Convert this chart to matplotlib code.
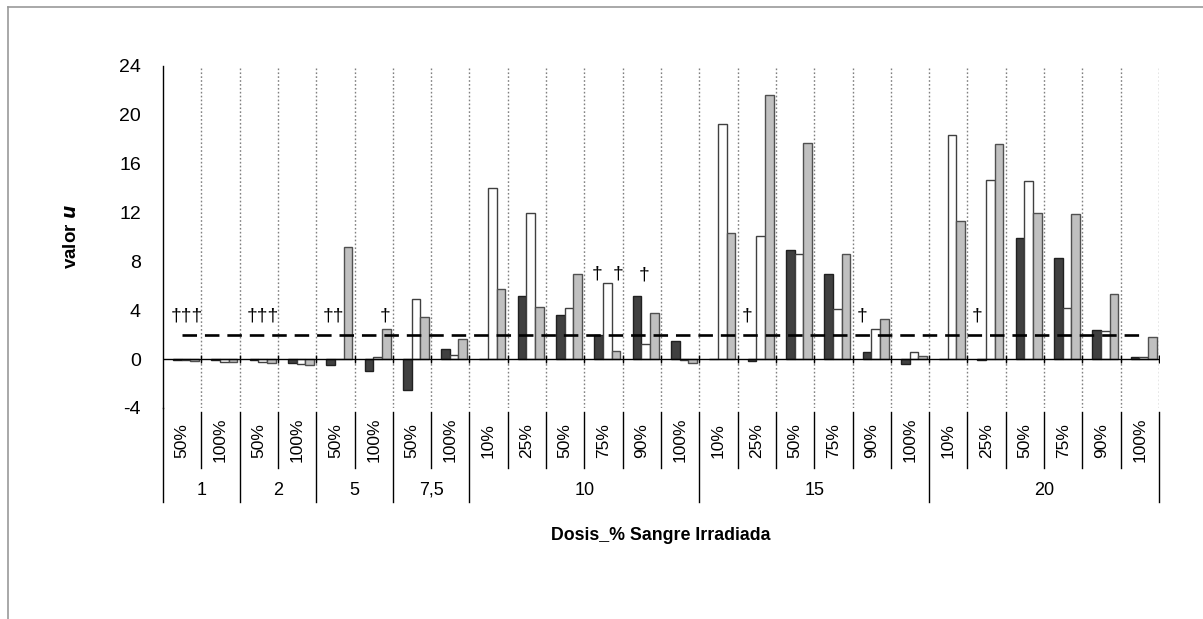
import numpy as np
import matplotlib
matplotlib.use("Agg")
import matplotlib.pyplot as plt
import matplotlib.transforms as mtransforms
from matplotlib.lines import Line2D

plt.rcParams['font.family'] = ['Liberation Sans', 'DejaVu Sans']
plt.rcParams['axes.unicode_minus'] = False

# dose groups and % of irradiated blood in each group
dosis = ['1', '2', '5', '7,5', '10', '15', '20']
porcentajes = [
    ['50%', '100%'],
    ['50%', '100%'],
    ['50%', '100%'],
    ['50%', '100%'],
    ['10%', '25%', '50%', '75%', '90%', '100%'],
    ['10%', '25%', '50%', '75%', '90%', '100%'],
    ['10%', '25%', '50%', '75%', '90%', '100%'],
]

# u values, three series (dark, white, light grey)
serie_oscura = [-0.05, -0.1, -0.1, -0.3, -0.5, -1.0, -2.5, 0.8,
                0.0, 5.2, 3.6, 2.0, 5.2, 1.5,
                0.0, -0.15, 8.9, 7.0, 0.6, -0.4,
                0.0, -0.1, 9.9, 8.3, 2.4, 0.2]
serie_blanca = [-0.1, -0.2, -0.2, -0.4, 0.0, 0.2, 4.95, 0.35,
                14.0, 12.0, 4.2, 6.25, 1.2, -0.05,
                19.25, 10.05, 8.6, 4.1, 2.5, 0.55,
                18.35, 14.7, 14.6, 4.15, 2.3, 0.17]
serie_gris = [-0.15, -0.2, -0.35, -0.45, 9.15, 2.5, 3.45, 1.65,
              5.75, 4.25, 7.0, 0.65, 3.8, -0.3,
              10.35, 21.65, 17.7, 8.6, 3.3, 0.25,
              11.35, 17.6, 12.0, 11.9, 5.3, 1.85]

umbral = 2.0

# dagger marks: category index, x offset inside category, text, u level
marca_cat = [0, 2, 4, 5, 11, 11, 12, 15, 18, 21]
marca_dx = [0.12, 0.11, -0.06, 0.29, -0.16, 0.37, 0.07, -0.25, -0.24, -0.25]
marca_txt = ['†††', '†††', '††', '†', '†', '†', '†', '†', '†', '†']
marca_y = [3.5, 3.5, 3.5, 3.5, 7.0, 7.0, 6.9, 3.5, 3.5, 3.5]

n = len(serie_oscura)
x = np.arange(n)
w = 0.226
shift = 0.1

fig = plt.figure(figsize=(12.03, 6.19), dpi=100)
ax = fig.add_axes([163 / 1203, 1 - 408 / 619, (1159 - 163) / 1203, (408 - 66) / 619])

ax.bar(x + shift - w, serie_oscura, w, color='#404040', edgecolor='#202020', linewidth=1, zorder=3)
ax.bar(x + shift, serie_blanca, w, color='white', edgecolor='#404040', linewidth=1, zorder=3)
ax.bar(x + shift + w, serie_gris, w, color='#c0c0c0', edgecolor='#505050', linewidth=1, zorder=3)

ax.plot(x, [umbral] * n, color='black', lw=1.9, dashes=(5.5, 3), zorder=4)

for c, dx, t, yy in zip(marca_cat, marca_dx, marca_txt, marca_y):
    ax.text(c + dx, yy, t, ha='center', va='center', fontsize=14, zorder=5)

ax.set_xlim(-0.5, n - 0.5)
ax.set_ylim(-4, 24)
ax.set_yticks(np.arange(-4, 25, 4))
ax.tick_params(axis='y', length=0, labelsize=14, pad=16)
ax.set_xticks([])

for s in ['top', 'right', 'bottom']:
    ax.spines[s].set_visible(False)
ax.spines['left'].set_linewidth(1)

# dotted grid at category boundaries
for b in np.arange(0.5, n, 1.0):
    ax.axvline(b, color='#808080', lw=1, ls=(0, (1.2, 1.6)), zorder=1)
ax.axhline(0, color='black', lw=1, zorder=4)
ax.plot(np.arange(0.5, n, 1.0), [0] * n, ls='none', marker='|', ms=6, mew=1, color='black', zorder=4)

# two-level category axis below the plot
trans = mtransforms.blended_transform_factory(ax.transData, ax.transAxes)
top_y = -0.012
inner_y = -0.175
outer_y = -0.275
pos = 0
bordes = [-0.5]
for g, pcts in zip(dosis, porcentajes):
    start = pos
    for p in pcts:
        ax.text(pos, -0.094, p, transform=trans, rotation=90, ha='center', va='center',
                fontsize=12.5, clip_on=False)
        pos += 1
    for b in range(start + 1, pos):
        ax.add_line(Line2D([b - 0.5, b - 0.5], [top_y, inner_y], transform=trans,
                           color='black', lw=1, clip_on=False))
    ax.text((start + pos - 1) / 2, -0.24, g, transform=trans, ha='center', va='center',
            fontsize=13, clip_on=False)
    bordes.append(pos - 0.5)
for b in bordes:
    y0 = 0 if b == -0.5 else top_y
    ax.add_line(Line2D([b, b], [y0, outer_y], transform=trans, color='black', lw=1, clip_on=False))

ax.set_ylabel('valor $\\mathbfit{u}$', fontsize=13.5, fontweight='bold', labelpad=28)
fig.text(661 / 1203, 1 - 536 / 619, 'Dosis_% Sangre Irradiada', ha='center', va='center',
         fontsize=12.8, fontweight='bold')

# chart border (left and top edges visible)
fig.add_artist(Line2D([8 / 1203, 8 / 1203], [0, 1 - 7 / 619], transform=fig.transFigure,
                      color='#999999', lw=1.2))
fig.add_artist(Line2D([8 / 1203, 1], [1 - 7 / 619, 1 - 7 / 619], transform=fig.transFigure,
                      color='#999999', lw=1.2))

fig.savefig('out.png', dpi=100)
